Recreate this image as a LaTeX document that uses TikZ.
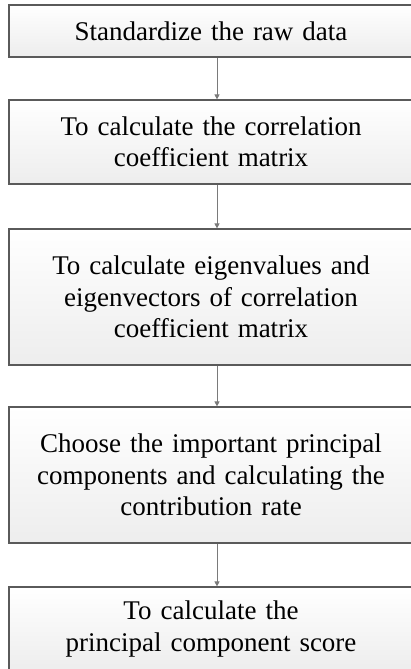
\documentclass[tikz,border=0pt]{standalone}
\usepackage{fontspec}
\setmainfont{Liberation Serif}
\usetikzlibrary{arrows.meta, positioning, shadings}
\definecolor{boxline}{HTML}{5A5A5A}
\definecolor{arrowgray}{HTML}{7A7A7A}
\definecolor{boxshade}{HTML}{EDEDED}

\begin{document}
\begin{tikzpicture}[
  x=1pt, y=1pt,
  stage box/.style={rectangle, draw=boxline, line width=1.2pt, top color=white, bottom color=boxshade, minimum width=404pt, text width=400pt, align=center, font=\fontsize{27}{31.5}\selectfont, inner sep=0pt},
  flow/.style={-{Triangle[length=5pt, width=5pt]}, arrowgray, line width=0.9pt},
]
  \useasboundingbox (0,0) rectangle (411,-669);

  % Standardize
  \node[stage box, minimum height=52pt] (std) at (211,-31) {Standardize the raw data};

  % Correlation matrix
  \node[stage box, minimum height=84pt] (corr) at (211,-142) {To calculate the correlation\\coefficient matrix};

  % Eigen
  \node[stage box, minimum height=136pt] (eig) at (211,-297) {To calculate eigenvalues and\\eigenvectors of correlation\\coefficient matrix};

  % Principal components
  \node[stage box, minimum height=136pt] (pc) at (211,-475) {Choose the important principal\\components and calculating the\\contribution rate};

  % Score
  \node[stage box, minimum height=84pt] (score) at (211,-629) {To calculate the\\principal component score};

  % Arrows
  \draw[flow] ([xshift=6pt]std.south) -- ([xshift=6pt]corr.north);
  \draw[flow] ([xshift=6pt]corr.south) -- ([xshift=6pt]eig.north);
  \draw[flow] ([xshift=6pt]eig.south) -- ([xshift=6pt]pc.north);
  \draw[flow] ([xshift=6pt]pc.south) -- ([xshift=6pt]score.north);

\end{tikzpicture}
\end{document}
